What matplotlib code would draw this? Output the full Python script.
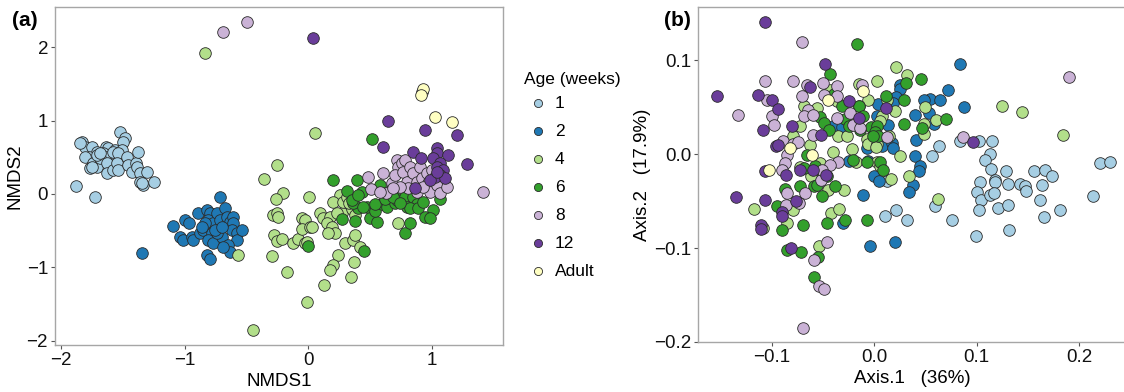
import numpy as np
import matplotlib
matplotlib.use("Agg")
from matplotlib import pyplot as plt

plt.rcParams["font.family"] = ["Liberation Sans", "DejaVu Sans"]

# ==== data: (a) NMDS, one array per age group ====
nmds_w1 = np.array([
    [-1.879, 0.114], [-1.725, -0.04], [-1.833, 0.714], [-1.806, 0.645], [-1.846, 0.69],
    [-1.752, 0.645], [-1.71, 0.577], [-1.77, 0.51], [-1.806, 0.51], [-1.738, 0.418],
    [-1.765, 0.35], [-1.71, 0.373], [-1.752, 0.373], [-1.636, 0.645], [-1.617, 0.623],
    [-1.658, 0.555], [-1.636, 0.51], [-1.684, 0.486], [-1.625, 0.418], [-1.63, 0.282],
    [-1.577, 0.327], [-1.563, 0.6], [-1.55, 0.51], [-1.582, 0.577], [-1.523, 0.85],
    [-1.482, 0.759], [-1.496, 0.714], [-1.509, 0.6], [-1.536, 0.555], [-1.544, 0.418],
    [-1.536, 0.327], [-1.469, 0.51], [-1.456, 0.395], [-1.429, 0.305], [-1.394, 0.418],
    [-1.375, 0.577], [-1.388, 0.373], [-1.361, 0.282], [-1.361, 0.168], [-1.334, 0.123],
    [-1.348, 0.145], [-1.307, 0.305], [-1.248, 0.168], [-1.71, 0.53], [-1.684, 0.555],
])
nmds_w2 = np.array([
    [-0.714, -0.036], [-1.092, -0.436], [-0.997, -0.355], [-0.962, -0.391], [-1.038, -0.591],
    [-1.011, -0.627], [-0.943, -0.591], [-0.93, -0.627], [-0.889, -0.264], [-0.876, -0.536],
    [-0.849, -0.491], [-0.822, -0.218], [-0.795, -0.264], [-0.809, -0.355], [-0.768, -0.4],
    [-0.741, -0.264], [-0.781, -0.536], [-0.809, -0.627], [-0.768, -0.673], [-0.822, -0.832],
    [-0.795, -0.891], [-0.714, -0.355], [-0.728, -0.491], [-0.7, -0.582], [-0.674, -0.195],
    [-0.66, -0.309], [-0.633, -0.377], [-0.606, -0.309], [-0.606, -0.4], [-0.62, -0.491],
    [-0.579, -0.536], [-0.579, -0.627], [-0.539, -0.491], [-0.647, -0.695], [-0.633, -0.786],
    [-0.687, -0.718], [-0.741, -0.536], [-0.755, -0.491], [-0.835, -0.4], [-0.862, -0.445],
    [-1.348, -0.8], [-0.7, -0.445],
])
nmds_w4 = np.array([
    [-0.836, 1.918], [0.057, 0.827], [-0.566, -0.832], [-0.445, -1.855], [-0.356, 0.2],
    [-0.256, 0.395], [-0.208, 0.009], [-0.261, -0.068], [0.008, -0.045], [-0.283, -0.286],
    [-0.256, -0.255], [-0.243, -0.318], [-0.278, -0.559], [-0.256, -0.636], [-0.216, -0.618],
    [-0.296, -0.845], [-0.17, -1.059], [-0.121, -0.664], [-0.081, -0.618], [-0.054, -0.332],
    [-0.027, -0.355], [-0.054, -0.482], [0.013, -0.445], [0.027, -0.455], [-0.027, -0.664],
    [-0.013, -0.65], [-0.008, -1.468], [0.094, -0.264], [0.121, -0.332], [0.175, -0.309],
    [0.148, -0.391], [0.189, -0.445], [0.216, -0.527], [0.162, -0.527], [0.243, -0.832],
    [0.202, -0.968], [0.175, -1.036], [0.13, -1.241], [0.256, -0.014], [0.202, -0.114],
    [0.27, -0.264], [0.283, -0.105], [0.296, -0.673], [0.364, -0.627], [0.377, -0.559],
    [0.418, -0.718], [0.372, -0.923], [0.342, -1.127], [0.728, -0.391], [0.31, -0.036],
    [0.229, -0.264], [0.35, -0.2], [0.38, -0.28], [0.33, -0.12],
])
nmds_w6 = np.array([
    [0.0, -0.709], [0.202, 0.191], [0.31, 0.045], [0.391, 0.191], [0.431, 0.032],
    [0.512, 0.745], [0.579, 0.123], [0.27, -0.345], [0.377, -0.364], [0.45, -0.773],
    [0.404, -0.195], [0.472, -0.182], [0.364, -0.127], [0.499, -0.332], [0.553, -0.377],
    [0.539, -0.227], [0.593, -0.136], [0.633, -0.173], [0.647, 0.032], [0.701, -0.127],
    [0.728, 0.018], [0.714, -0.082], [0.782, -0.036], [0.782, -0.536], [0.795, -0.173],
    [0.822, -0.4], [0.849, -0.036], [0.876, -0.136], [0.822, -0.195], [0.889, -0.195],
    [0.93, -0.105], [1.011, -0.218], [0.943, -0.309], [0.984, -0.332], [1.065, -0.068],
    [1.038, 0.055], [0.539, -0.136], [0.62, -0.073], [0.687, -0.045], [0.741, -0.127],
    [0.445, -0.173], [0.35, -0.08], [0.4, -0.01],
])
nmds_w8 = np.array([
    [-0.693, 2.214], [-0.493, 2.341], [1.41, 0.023], [0.485, 0.236], [0.504, 0.068],
    [0.606, 0.282], [0.628, 0.018], [0.674, 0.145], [0.714, 0.464], [0.728, 0.373],
    [0.701, 0.259], [0.755, 0.418], [0.768, 0.305], [0.782, 0.464], [0.822, 0.373],
    [0.795, 0.168], [0.809, 0.077], [0.849, 0.282], [0.876, 0.168], [0.903, 0.373],
    [0.916, 0.214], [0.957, 0.282], [0.97, 0.145], [0.984, 0.032], [0.997, 0.327],
    [0.741, 0.1], [0.687, 0.077], [0.579, 0.032], [1.038, 0.123], [1.065, 0.009],
    [1.119, 0.1], [0.876, 0.032], [0.93, 0.1],
])
nmds_w12 = np.array([
    [0.04, 2.123], [0.647, 1.0], [0.943, 0.873], [1.205, 0.805], [0.601, 0.645],
    [0.849, 0.577], [0.907, 0.486], [1.038, 0.623], [1.038, 0.555], [1.132, 0.532],
    [1.011, 0.486], [1.065, 0.418], [1.038, 0.373], [1.092, 0.327], [1.065, 0.259],
    [1.025, 0.236], [1.105, 0.214], [1.28, 0.409], [0.862, 0.077], [0.984, 0.191],
    [1.038, 0.305],
])
nmds_adult = np.array([
    [0.916, 1.395], [0.93, 1.427], [0.91, 1.35], [1.024, 1.055], [1.159, 0.986],
])

# ==== data: (b) PCoA, one array per age group ====
pcoa_w1 = np.array([
    [0.0564, -0.0018], [0.0629, 0.0082], [0.0124, -0.0284], [0.0107, -0.0657], [0.0215, -0.0593],
    [0.0319, -0.0706], [0.0596, -0.055], [0.0759, -0.0699], [0.084, 0.0135], [0.102, 0.0135],
    [0.115, 0.0135], [0.1134, 0.0004], [0.1078, -0.006], [0.1143, -0.0156], [0.1182, -0.0273],
    [0.1182, -0.0302], [0.1287, -0.0185], [0.1303, -0.0316], [0.1029, -0.0302], [0.1003, -0.0405],
    [0.1042, -0.0486], [0.1134, -0.0433], [0.1173, -0.0415], [0.1026, -0.0593], [0.1208, -0.0575],
    [0.1303, -0.054], [0.0997, -0.087], [0.1313, -0.0813], [0.1427, -0.0316], [0.1469, -0.0344],
    [0.1485, -0.039], [0.1557, -0.0185], [0.167, -0.0174], [0.1638, -0.0327], [0.1736, -0.0238],
    [0.1615, -0.0486], [0.1661, -0.0671], [0.1808, -0.06], [0.2134, -0.0451], [0.2199, -0.0096],
    [0.23, -0.0089],
])
pcoa_w2 = np.array([
    [0.0834, 0.0958], [0.0717, 0.0678], [0.0873, 0.0501], [0.0547, 0.0586], [0.0645, 0.0572],
    [0.0489, 0.0572], [0.0401, 0.0419], [0.0254, 0.0738], [0.0248, 0.0692], [0.0215, 0.0603],
    [0.0042, 0.0536], [0.0026, 0.0408], [0.014, 0.0312], [0.0059, 0.0153], [0.0075, 0.0082],
    [0.0173, 0.0117], [0.0189, 0.0064], [-0.0065, 0.0064], [-0.0055, -0.0078], [0.0, -0.0231],
    [0.0052, -0.0291], [0.041, 0.0153], [0.0401, -0.0018], [0.045, -0.0124], [0.044, -0.0185],
    [0.0378, -0.0327], [0.0345, -0.0398], [-0.0111, -0.0433], [-0.0039, -0.0983], [0.0205, -0.0937],
    [0.058, 0.0323], [0.0531, 0.0437], [-0.0404, 0.0302], [-0.0316, 0.0288], [-0.0241, -0.0078],
    [-0.03, -0.0728], [0.0189, 0.0543],
])
pcoa_w4 = np.array([
    [0.0215, 0.0927], [0.0319, 0.0845], [0.0026, 0.0774], [-0.0143, 0.0746], [-0.0055, 0.0572],
    [-0.0147, 0.0515], [-0.0681, 0.0515], [-0.0723, 0.0295], [-0.0788, 0.0188], [-0.0625, 0.0092],
    [-0.0404, 0.0018], [-0.0349, 0.0195], [-0.0267, 0.0195], [-0.0218, 0.0053], [-0.0176, -0.0089],
    [-0.0072, 0.016], [-0.0055, 0.011], [0.0026, 0.011], [0.002, 0.0075], [0.015, 0.0195],
    [0.0205, 0.0454], [0.0254, -0.0025], [0.0166, -0.0266], [0.0345, -0.0238], [0.0482, 0.0323],
    [0.0489, 0.0217], [0.0498, 0.0501], [0.0606, 0.0359], [0.0619, -0.0479], [0.1248, 0.0515],
    [0.1443, 0.0447], [0.184, 0.0206], [-0.1173, -0.0586], [-0.1081, -0.0788], [-0.0847, -0.0728],
    [-0.0788, -0.0593], [-0.0723, -0.0138], [-0.0619, -0.0231], [-0.0528, -0.0096], [-0.0446, -0.0387],
    [-0.042, -0.0628], [-0.0339, -0.0582], [-0.029, -0.0387], [-0.0534, -0.0983], [0.0026, -0.0089],
    [0.0059, -0.0124], [-0.043, 0.0685], [-0.056, 0.049], [-0.0365, 0.0561], [0.0124, 0.0579],
    [0.0075, 0.0401], [0.0059, 0.0348], [-0.0169, 0.0348],
])
pcoa_w6 = np.array([
    [-0.0169, 0.1171], [-0.043, 0.0856], [0.0313, 0.0756], [0.0456, 0.0802], [-0.0391, 0.0643],
    [-0.0316, 0.0515], [-0.0143, 0.0508], [0.0114, 0.0614], [-0.0528, 0.0394], [-0.0485, 0.033],
    [-0.0436, 0.0259], [-0.0283, 0.0373], [-0.0241, 0.0295], [-0.0111, 0.0401], [-0.0033, 0.0288],
    [0.0033, 0.0295], [0.001, 0.0231], [0.0042, 0.0188], [0.0293, 0.0323], [0.0466, 0.0277],
    [0.0704, 0.0373], [-0.0658, -0.0007], [-0.0577, -0.0131], [-0.0681, -0.0149], [-0.0502, -0.022],
    [-0.0463, -0.0238], [-0.0583, -0.0344], [-0.056, -0.0327], [-0.087, -0.0373], [-0.0723, -0.0344],
    [-0.0951, -0.0557], [-0.0902, -0.0813], [-0.0853, -0.1026], [-0.0713, -0.1037], [-0.0691, -0.0753],
    [-0.0511, -0.0451], [-0.0456, -0.0728], [-0.055, -0.1097], [-0.0586, -0.131], [-0.0283, -0.0706],
    [-0.0072, -0.0699], [-0.0208, -0.006], [-0.0065, -0.0089], [0.0059, -0.0085], [0.0085, -0.0174],
    [-0.0381, -0.0344], [-0.0137, 0.0259], [0.0287, 0.0579], [-0.0007, 0.0188],
])
pcoa_w8 = np.array([
    [-0.0697, -0.1846], [-0.0707, 0.1193], [-0.1059, 0.0774], [-0.0788, 0.0774], [-0.0658, 0.0738],
    [-0.0495, 0.0756], [-0.0358, 0.0728], [-0.0121, 0.0738], [-0.1326, 0.0412], [-0.1049, 0.0579],
    [-0.1, 0.0401], [-0.0977, 0.0312], [-0.0707, 0.0614], [-0.0642, 0.0472], [-0.0681, 0.0408],
    [-0.06, 0.0419], [-0.0485, 0.0632], [-0.0358, 0.0614], [-0.0235, 0.0437], [-0.0202, 0.0312],
    [-0.0593, 0.0206], [-0.0886, 0.0135], [-0.0795, 0.011], [-0.0739, 0.0124], [-0.0853, -0.0007],
    [-0.0869, -0.0096], [-0.0902, -0.0167], [-0.0349, -0.0089], [-0.043, -0.0114], [-0.0518, -0.0273],
    [-0.0674, -0.0415], [-0.0853, -0.0415], [-0.0733, -0.0522], [-0.0863, -0.054], [-0.0586, -0.1125],
    [-0.0534, -0.1402], [-0.0489, -0.1438], [-0.0456, -0.0937], [0.0866, 0.0181], [0.1899, 0.082],
    [0.0124, 0.0181], [-0.0137, 0.0277], [-0.0365, 0.0383], [-0.0511, -0.0167],
])
pcoa_w12 = np.array([
    [-0.1065, 0.1406], [-0.153, 0.0614], [-0.113, 0.0632], [-0.1, 0.0579], [-0.1088, 0.0259],
    [-0.0941, 0.0479], [-0.0798, 0.0302], [-0.0958, 0.0082], [-0.0935, 0.0099], [-0.1065, -0.0185],
    [-0.086, -0.022], [-0.0723, -0.0167], [-0.1349, -0.0458], [-0.1065, -0.0493], [-0.0765, -0.0504],
    [-0.0896, -0.0611], [-0.0896, -0.0657], [-0.1098, -0.0753], [-0.1098, -0.0799], [-0.0811, -0.1001],
    [-0.0625, 0.0714], [-0.0479, 0.0962], [-0.0518, 0.0206], [-0.0241, 0.0568], [-0.0143, 0.0383],
    [0.0117, 0.049], [0.0964, 0.0124], [-0.0469, -0.022], [-0.06, -0.0167],
])
pcoa_adult = np.array([
    [-0.0111, 0.0667], [-0.0446, 0.0579], [-0.0603, -0.0007], [-0.1026, -0.0174], [-0.0821, 0.0064],
])

ages = ["1", "2", "4", "6", "8", "12", "Adult"]
colors = ["#A6CEE3", "#1F78B4", "#B2DF8A", "#33A02C", "#CAB2D6", "#6A3D9A", "#FFFFC2"]
nmds_groups = [nmds_w1, nmds_w2, nmds_w4, nmds_w6, nmds_w8, nmds_w12, nmds_adult]
pcoa_groups = [pcoa_w1, pcoa_w2, pcoa_w4, pcoa_w6, pcoa_w8, pcoa_w12, pcoa_adult]

W, H = 1124, 392
fig = plt.figure(figsize=(W / 100, H / 100), dpi=100)


def px_axes(l, r, t, b):
    return fig.add_axes([l / W, 1 - b / H, (r - l) / W, (b - t) / H])


def style(ax):
    for s in ax.spines.values():
        s.set_color("#a6a6a6")
        s.set_linewidth(1.0)
    ax.tick_params(direction="out", length=3, width=0.8, color="#555555",
                   labelsize=13.5, labelcolor="#111111", pad=2)


ax1 = px_axes(55, 503, 7, 345)
ax2 = px_axes(698, 1127, 7, 342)

handles = []
for pts, c, lab in zip(nmds_groups, colors, ages):
    h = ax1.scatter(pts[:, 0], pts[:, 1], s=70, c=c, edgecolors="#2b2b2b", linewidths=0.6, label=lab)
    handles.append(h)
for pts, c in zip(pcoa_groups, colors):
    ax2.scatter(pts[:, 0], pts[:, 1], s=70, c=c, edgecolors="#2b2b2b", linewidths=0.6)

ax1.set_xlim(-2.0485, 1.573)
ax1.set_ylim(-2.06, 2.551)
ax1.set_xticks([-2, -1, 0, 1])
ax1.set_yticks([-2, -1, 0, 1, 2])
ax1.set_xlabel("NMDS1", fontsize=13.5, labelpad=3)
ax1.set_ylabel("NMDS2", fontsize=13.5, labelpad=2)
style(ax1)

ax2.set_xlim(-0.1717, 0.2466)
ax2.set_ylim(-0.1995, 0.1566)
ax2.set_xticks([-0.1, 0.0, 0.1, 0.2])
ax2.set_yticks([-0.2, -0.1, 0.0, 0.1])
ax2.set_xticklabels(["\u22120.1", "0.0", "0.1", "0.2"])
ax2.set_yticklabels(["\u22120.2", "\u22120.1", "0.0", "0.1"])
ax2.set_xlabel("Axis.1   (36%)", fontsize=13.5, labelpad=3)
ax2.set_ylabel("Axis.2   (17.9%)", fontsize=13.5, labelpad=2)
style(ax2)

fig.text(12 / W, 1 - 20 / H, "(a)", fontsize=15, fontweight="bold", va="center", ha="left")
fig.text(664 / W, 1 - 20 / H, "(b)", fontsize=15, fontweight="bold", va="center", ha="left")

leg = fig.legend(handles=handles, labels=ages, loc="upper left", bbox_to_anchor=(515 / W, 1 - 63 / H),
                 frameon=False, title="Age (weeks)", fontsize=12.5, title_fontsize=12.5,
                 markerscale=0.7, handletextpad=0.2, labelspacing=0.74, borderpad=0,
                 alignment="left", handlelength=1.6)
# tighter gap between title and first entry
leg._legend_box.sep = 6.3

fig.savefig("out.png", dpi=100)
